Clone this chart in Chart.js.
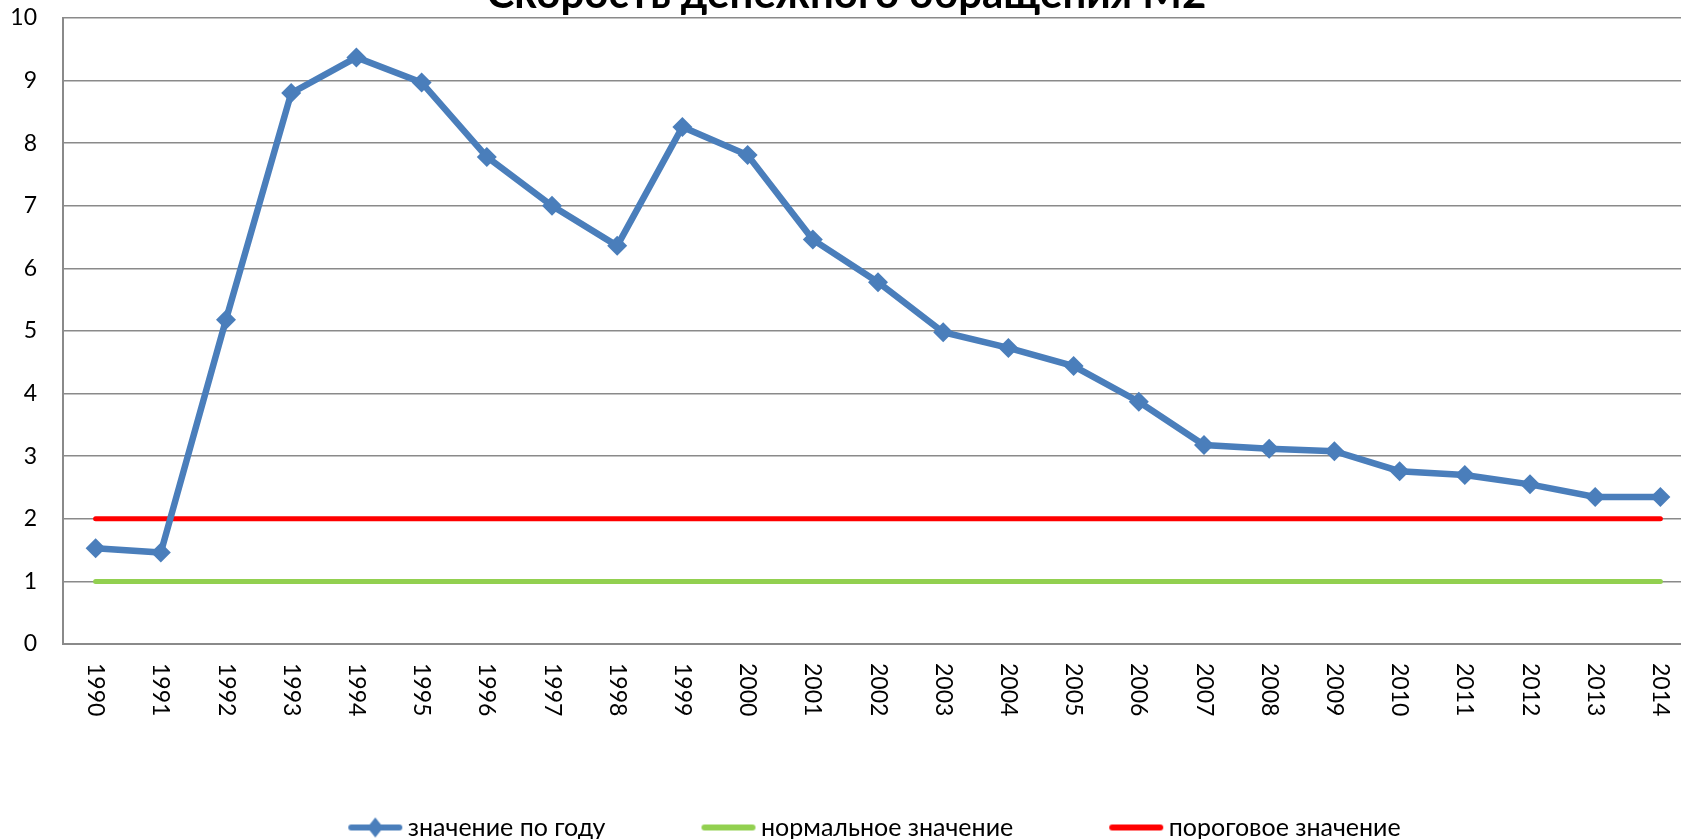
<!DOCTYPE html>
<html>
<head>
<meta charset="utf-8">
<script src="https://cdn.jsdelivr.net/npm/chart.js@4.4.1/dist/chart.umd.min.js"></script>
<style>
  html, body { margin: 0; padding: 0; background: #fff; overflow: hidden; width: 1681px; height: 839px; }
  #wrap { position: relative; width: 1681px; height: 839px; overflow: hidden; }
  #c { position: absolute; left: 0; top: -30px; }
</style>
</head>
<body>
<div id="wrap"><canvas id="c" width="1714" height="880"></canvas></div>
<script>
const titleText = 'Скорость денежного обращения М2';
const years = ['1990','1991','1992','1993','1994','1995','1996','1997','1998','1999','2000','2001','2002','2003','2004','2005','2006','2007','2008','2009','2010','2011','2012','2013','2014'];
const yearValues = [1.53, 1.46, 5.18, 8.80, 9.37, 8.97, 7.78, 7.00, 6.36, 8.26, 7.81, 6.46, 5.78, 4.98, 4.73, 4.44, 3.87, 3.18, 3.12, 3.08, 2.76, 2.70, 2.55, 2.35, 2.35];
const normalValues = [1,1,1,1,1,1,1,1,1,1,1,1,1,1,1,1,1,1,1,1,1,1,1,1,1];
const thresholdValues = [2,2,2,2,2,2,2,2,2,2,2,2,2,2,2,2,2,2,2,2,2,2,2,2,2];
const seriesNames = ['значение по году', 'нормальное значение', 'пороговое значение'];
const yTicks = [0,1,2,3,4,5,6,7,8,9,10];

const BLUE = '#4a7ebb', GREEN = '#92d050', RED = '#ff0000', GRID = '#8a8a8a';
const FONT = 'Lato, "Liberation Sans", sans-serif';

function legendIcon(color, diamond) {
  const cv = document.createElement('canvas');
  cv.width = 56; cv.height = 22;
  const g = cv.getContext('2d');
  g.strokeStyle = color; g.lineWidth = 6; g.lineCap = 'round';
  g.beginPath(); g.moveTo(4, 11); g.lineTo(52, 11); g.stroke();
  if (diamond) {
    g.fillStyle = color;
    g.beginPath(); g.moveTo(28, 1); g.lineTo(36, 11); g.lineTo(28, 21); g.lineTo(20, 11); g.closePath(); g.fill();
  }
  return cv;
}
const legendIcons = [legendIcon(BLUE, true), legendIcon(GREEN, false), legendIcon(RED, false)];

const xLabelPlugin = {
  id: 'xLabels',
  afterDraw(chart) {
    const {ctx, chartArea, scales} = chart;
    const x = scales.x;
    ctx.save();
    ctx.font = '23px ' + FONT;
    ctx.fillStyle = '#000';
    ctx.textAlign = 'left';
    ctx.textBaseline = 'middle';
    years.forEach((label, i) => {
      const px = x.getPixelForValue(i);
      ctx.save();
      ctx.translate(px, chartArea.bottom + 19);
      ctx.rotate(Math.PI / 2);
      ctx.fillText(label, 0, 0);
      ctx.restore();
    });
    ctx.restore();
  }
};

function build() {
  new Chart(document.getElementById('c'), {
    type: 'line',
    data: {
      labels: years,
      datasets: [
        { label: seriesNames[0], data: yearValues, borderColor: BLUE, backgroundColor: BLUE, borderWidth: 6.5,
          pointStyle: 'rectRot', pointRadius: 10, pointHoverRadius: 10, pointBackgroundColor: BLUE, pointBorderWidth: 0, tension: 0 },
        { label: seriesNames[1], data: normalValues, borderColor: GREEN, backgroundColor: GREEN, borderWidth: 5,
          pointRadius: 0, borderCapStyle: 'round', tension: 0 },
        { label: seriesNames[2], data: thresholdValues, borderColor: RED, backgroundColor: RED, borderWidth: 5,
          pointRadius: 0, borderCapStyle: 'round', tension: 0 }
      ]
    },
    options: {
      responsive: false,
      animation: false,
      devicePixelRatio: 1,
      layout: { padding: { left: 0, right: 21, top: 0, bottom: 0 } },
      plugins: {
        title: {
          display: true, text: titleText, color: '#000',
          font: { family: FONT, size: 42, weight: 'bold', lineHeight: 48 / 42 },
          padding: { top: 0, bottom: 0 }
        },
        legend: {
          position: 'bottom', fullSize: false,
          labels: {
            usePointStyle: true, pointStyleWidth: 40, padding: 103,
            color: '#000', font: { family: FONT, size: 25 },
            generateLabels(chart) {
              const items = Chart.defaults.plugins.legend.labels.generateLabels(chart);
              items.forEach((it, i) => { it.pointStyle = legendIcons[i]; });
              return items;
            }
          }
        },
        tooltip: { enabled: false }
      },
      scales: {
        x: {
          type: 'category', offset: true,
          grid: { display: false },
          border: { display: true, color: GRID, width: 2 },
          ticks: { display: false },
          afterFit(scale) { scale.height = 68; }
        },
        y: {
          min: 0, max: 10,
          afterBuildTicks(scale) { scale.ticks = yTicks.map(v => ({ value: v })); },
          grid: { color: GRID, lineWidth: 1.5, drawTicks: false },
          border: { display: true, color: GRID, width: 2 },
          ticks: { padding: 26, color: '#000', font: { family: FONT, size: 23 } },
          afterFit(scale) { scale.width = 63; }
        }
      }
    },
    plugins: [xLabelPlugin]
  });
}
if (document.fonts && document.fonts.load) {
  Promise.all([document.fonts.load('22px Lato'), document.fonts.load('bold 40px Lato')]).then(build, build);
} else { build(); }
</script>
</body>
</html>
